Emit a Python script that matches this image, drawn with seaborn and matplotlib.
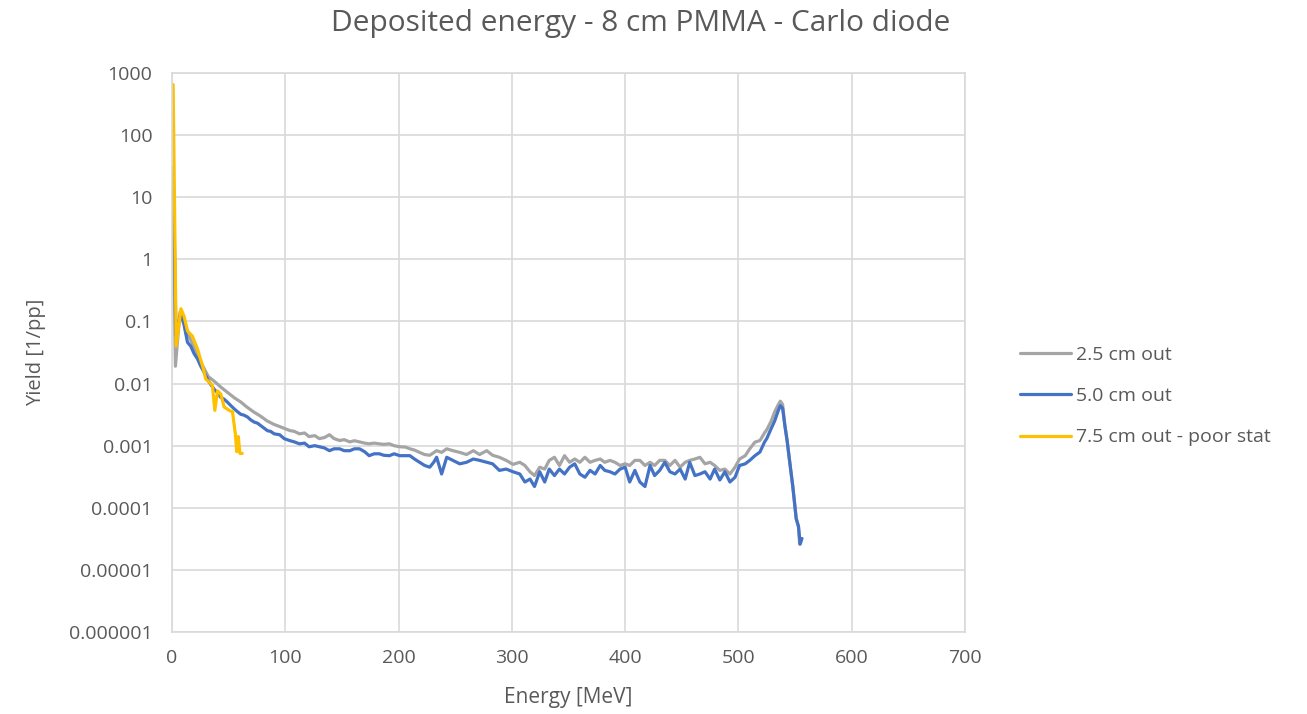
import matplotlib
matplotlib.use("Agg")
import matplotlib.pyplot as plt
import seaborn as sns
import pandas as pd
from matplotlib.ticker import FixedLocator, NullLocator

# ---------------- data ----------------
series_names = ["2.5 cm out", "5.0 cm out", "7.5 cm out - poor stat"]
series_colors = ["#A5A5A5", "#4472C4", "#FFC000"]

gray_E = [1.0, 3.0, 7.0, 10, 14, 20, 26, 32, 37, 43, 49, 55, 61, 66, 72, 78, 84, 90, 96,
          104, 108, 112.5, 117, 121, 126, 130, 134.5, 139, 143, 148, 152, 157, 161, 165.5,
          170, 174, 178.5, 183, 187, 192, 196, 201, 206, 210, 214, 218.5, 223, 227.5,
          233.6, 238, 242.5, 248, 254, 260, 266, 271.5, 277.8, 283, 289, 295, 301, 307,
          311.5, 316, 320, 324.6, 329, 333, 337.6, 342, 346.5, 351, 355.5, 360, 364.5,
          369, 373.5, 378, 382, 386.6, 391, 395.5, 400, 404, 408.6, 413, 417.5, 422, 426,
          430.5, 435, 439.5, 444, 448.5, 453, 457, 461.6, 466, 470.5, 475, 479, 483.6,
          488, 492.5, 497, 501, 506, 510, 514.6, 519, 523, 525, 529, 532, 535, 537, 539,
          541, 543, 545, 548, 551, 553, 554, 556]
gray_Y = [6.0, 0.019, 0.14, 0.11, 0.065, 0.035, 0.021, 0.013, 0.011, 0.0088, 0.0072, 0.0059,
          0.005, 0.0042, 0.0035, 0.0030, 0.0025, 0.0022, 0.0020,
          0.00175, 0.0017, 0.00155, 0.0016, 0.0014, 0.00145, 0.0013, 0.00135, 0.0015, 0.0013,
          0.00121, 0.00125, 0.00115, 0.0012, 0.00115, 0.0011, 0.00107, 0.0011, 0.00107,
          0.00105, 0.00107, 0.0010, 0.00096, 0.00095, 0.00089, 0.00085, 0.00078, 0.00072,
          0.0007, 0.00083, 0.00078, 0.00089, 0.00083, 0.00078, 0.00072, 0.00083, 0.00072,
          0.00083, 0.0007, 0.00065, 0.00058, 0.0005, 0.00054,
          0.00048, 0.00038, 0.00033, 0.00045, 0.00042, 0.00058, 0.00065, 0.00048, 0.00069,
          0.00054, 0.00061, 0.00054, 0.00065, 0.00054, 0.00058, 0.00061, 0.00054, 0.00058,
          0.00054, 0.00048, 0.00051, 0.00048, 0.00058, 0.00058, 0.00048, 0.00054, 0.00048,
          0.00058, 0.00058, 0.00048, 0.00058, 0.00045, 0.00054, 0.00058, 0.00061, 0.00065,
          0.00051, 0.00054, 0.00048, 0.0004, 0.00042, 0.00035, 0.00045, 0.00061, 0.00069,
          0.00089, 0.00114, 0.00121, 0.0016, 0.0018, 0.0025, 0.0035, 0.0045, 0.0052, 0.0046,
          0.0021, 0.0012, 0.0006, 0.00022, 0.000067, 0.00005, 0.000026, 0.000032]

blue_E = [1.0, 3.5, 7.0, 8.0, 10.5, 13.7, 16.5, 19.6, 22.5, 25.4, 28.5, 31.3, 34, 37.2, 40,
          43, 46, 49, 52, 55, 58, 60.7, 63.5, 66.6, 69.5, 72.5, 75.5, 78.4, 81.5, 84.3, 87,
          90.2, 95, 99, 103.7, 108, 112.5, 117, 121, 126, 130, 134.5, 139, 143, 148, 152,
          157, 161, 165.5, 170, 174, 178.5, 183, 187, 192, 196, 201, 206, 210, 214, 218.5,
          223, 227.5, 231, 233.6, 238, 242.5, 248, 254, 260, 266, 271.5, 277.8, 283, 289,
          295, 301, 307, 311.5, 316, 320, 324.6, 329, 333, 337.6, 342, 346.5, 351, 355.5,
          360, 364.5, 369, 373.5, 378, 382, 386.6, 391, 395.5, 400, 404, 408.6, 413, 417.5,
          422, 426, 430.5, 435, 439.5, 444, 448.5, 453, 457, 461.6, 466, 470.5, 475, 479,
          483.6, 488, 492.5, 497, 501, 506, 510, 514.6, 519, 523, 525, 529, 532, 535, 537,
          539, 541, 543, 545, 548, 551, 553, 554.5, 556]
blue_Y = [30.0, 0.06, 0.12, 0.13, 0.09, 0.046, 0.04, 0.030, 0.025, 0.019, 0.015, 0.0118,
          0.0098, 0.0081, 0.0072, 0.006, 0.0056, 0.005, 0.0044, 0.0039, 0.0035, 0.0032,
          0.0031, 0.0029, 0.0026, 0.0024, 0.0023, 0.0021, 0.0019, 0.00174, 0.0017, 0.00155,
          0.0015, 0.0013, 0.00121, 0.00115, 0.00107, 0.0011, 0.00096, 0.0010, 0.00096,
          0.00092, 0.00083, 0.00089, 0.00089, 0.00083, 0.00083, 0.00089, 0.00089, 0.0008,
          0.00069, 0.00074, 0.00074, 0.0007, 0.00069, 0.00074, 0.00069, 0.00069, 0.00069,
          0.00061, 0.00054, 0.00048, 0.00045, 0.00054, 0.00065, 0.00035, 0.00065, 0.00058,
          0.00051, 0.00054, 0.00061, 0.00058, 0.00054, 0.00051, 0.0004, 0.00042, 0.00038,
          0.00035, 0.00026, 0.00029, 0.00022, 0.00038, 0.00026, 0.00042, 0.00033, 0.00042,
          0.00035, 0.00045, 0.00051, 0.00035, 0.00031, 0.0004, 0.00035, 0.00048, 0.0004,
          0.00038, 0.00035, 0.00042, 0.00045, 0.00026, 0.0004, 0.00026, 0.00022, 0.00048,
          0.00033, 0.0004, 0.00054, 0.00038, 0.00035, 0.00042, 0.00029, 0.00054, 0.00033,
          0.00035, 0.00038, 0.00029, 0.00042, 0.00028, 0.00038, 0.00026, 0.00031, 0.00048,
          0.00051, 0.00058, 0.00069, 0.00079, 0.00114, 0.0013, 0.0019, 0.0025, 0.0036,
          0.0044, 0.0040, 0.0021, 0.0012, 0.0006, 0.00022, 0.000067, 0.00005, 0.000026,
          0.000032]

yellow_E = [1.0, 3.7, 7.9, 10.7, 13.7, 18, 22.5, 27, 29.8, 32.8, 35.7, 37.8, 40.2, 43, 46,
            50.5, 53.4, 56, 57.2, 58.5, 60, 62]
yellow_Y = [650.0, 0.04, 0.16, 0.12, 0.07, 0.058, 0.036, 0.019, 0.0118, 0.0106, 0.0093,
            0.0037, 0.0076, 0.0068, 0.0042, 0.0037, 0.0035, 0.0015, 0.0008, 0.0014,
            0.00075, 0.00075]

x_ticks = [0, 100, 200, 300, 400, 500, 600, 700]
y_ticks = [1e-6, 1e-5, 1e-4, 1e-3, 1e-2, 1e-1, 1, 10, 100, 1000]
y_tick_labels = ["0.000001", "0.00001", "0.0001", "0.001", "0.01", "0.1", "1", "10",
                 "100", "1000"]

title = "Deposited energy - 8 cm PMMA - Carlo diode"
x_label = "Energy [MeV]"
y_label = "Yield [1/pp]"

# ---------------- frame ----------------
frames = []
for name, E, Y in zip(series_names, [gray_E, blue_E, yellow_E], [gray_Y, blue_Y, yellow_Y]):
    frames.append(pd.DataFrame({"Energy": E, "Yield": Y, "Series": name}))
df = pd.concat(frames, ignore_index=True)

sns.set_theme(style="white")
plt.rcParams["font.family"] = ["Open Sans", "DejaVu Sans"]
TXT = "#595959"
GRID = "#D9D9D9"

fig = plt.figure(figsize=(13.07, 7.14), dpi=100)
ax = fig.add_axes([172 / 1307, 1 - 632 / 714, (965 - 172) / 1307, (632 - 73) / 714])

sns.lineplot(data=df, x="Energy", y="Yield", hue="Series", hue_order=series_names,
             palette=series_colors, estimator=None, sort=False, linewidth=2.3, ax=ax,
             legend=True)

ax.set_yscale("log")
ax.set_ylim(1e-6, 1e3)
ax.set_xlim(0, 700)
ax.xaxis.set_major_locator(FixedLocator(x_ticks))
ax.yaxis.set_major_locator(FixedLocator(y_ticks))
ax.yaxis.set_minor_locator(NullLocator())
ax.set_yticklabels(y_tick_labels)
ax.set_xticklabels([str(t) for t in x_ticks])
ax.grid(True, which="major", color=GRID, linewidth=1.2)
ax.set_axisbelow(True)
for s in ax.spines.values():
    s.set_color(GRID)
    s.set_linewidth(1.2)
ax.tick_params(axis="both", length=0, labelsize=14, labelcolor=TXT)
ax.tick_params(axis="y", pad=14)
ax.tick_params(axis="x", pad=12)

ax.set_xlabel(x_label, fontsize=15, color=TXT)
ax.set_ylabel(y_label, fontsize=14.5, color=TXT)
ax.xaxis.set_label_coords(0.5, (632 - 687) / 559)
ax.yaxis.set_label_coords((46 - 172) / 793, 0.5)

fig.text(0.49, 1 - 23 / 714, title, ha="center", va="center", fontsize=21.5, color=TXT)

handles, labels = ax.get_legend_handles_labels()
leg = ax.legend(handles, labels, loc="center left", bbox_to_anchor=(1020 / 1307, 1 - 396 / 714),
                bbox_transform=fig.transFigure, frameon=False, fontsize=14,
                handlelength=2.6, labelspacing=1.2, handletextpad=0.3, borderaxespad=0,
                borderpad=0)
for t in leg.get_texts():
    t.set_color(TXT)
for h in leg.get_lines():
    h.set_linewidth(2.3)

fig.savefig("out.png", dpi=100)
